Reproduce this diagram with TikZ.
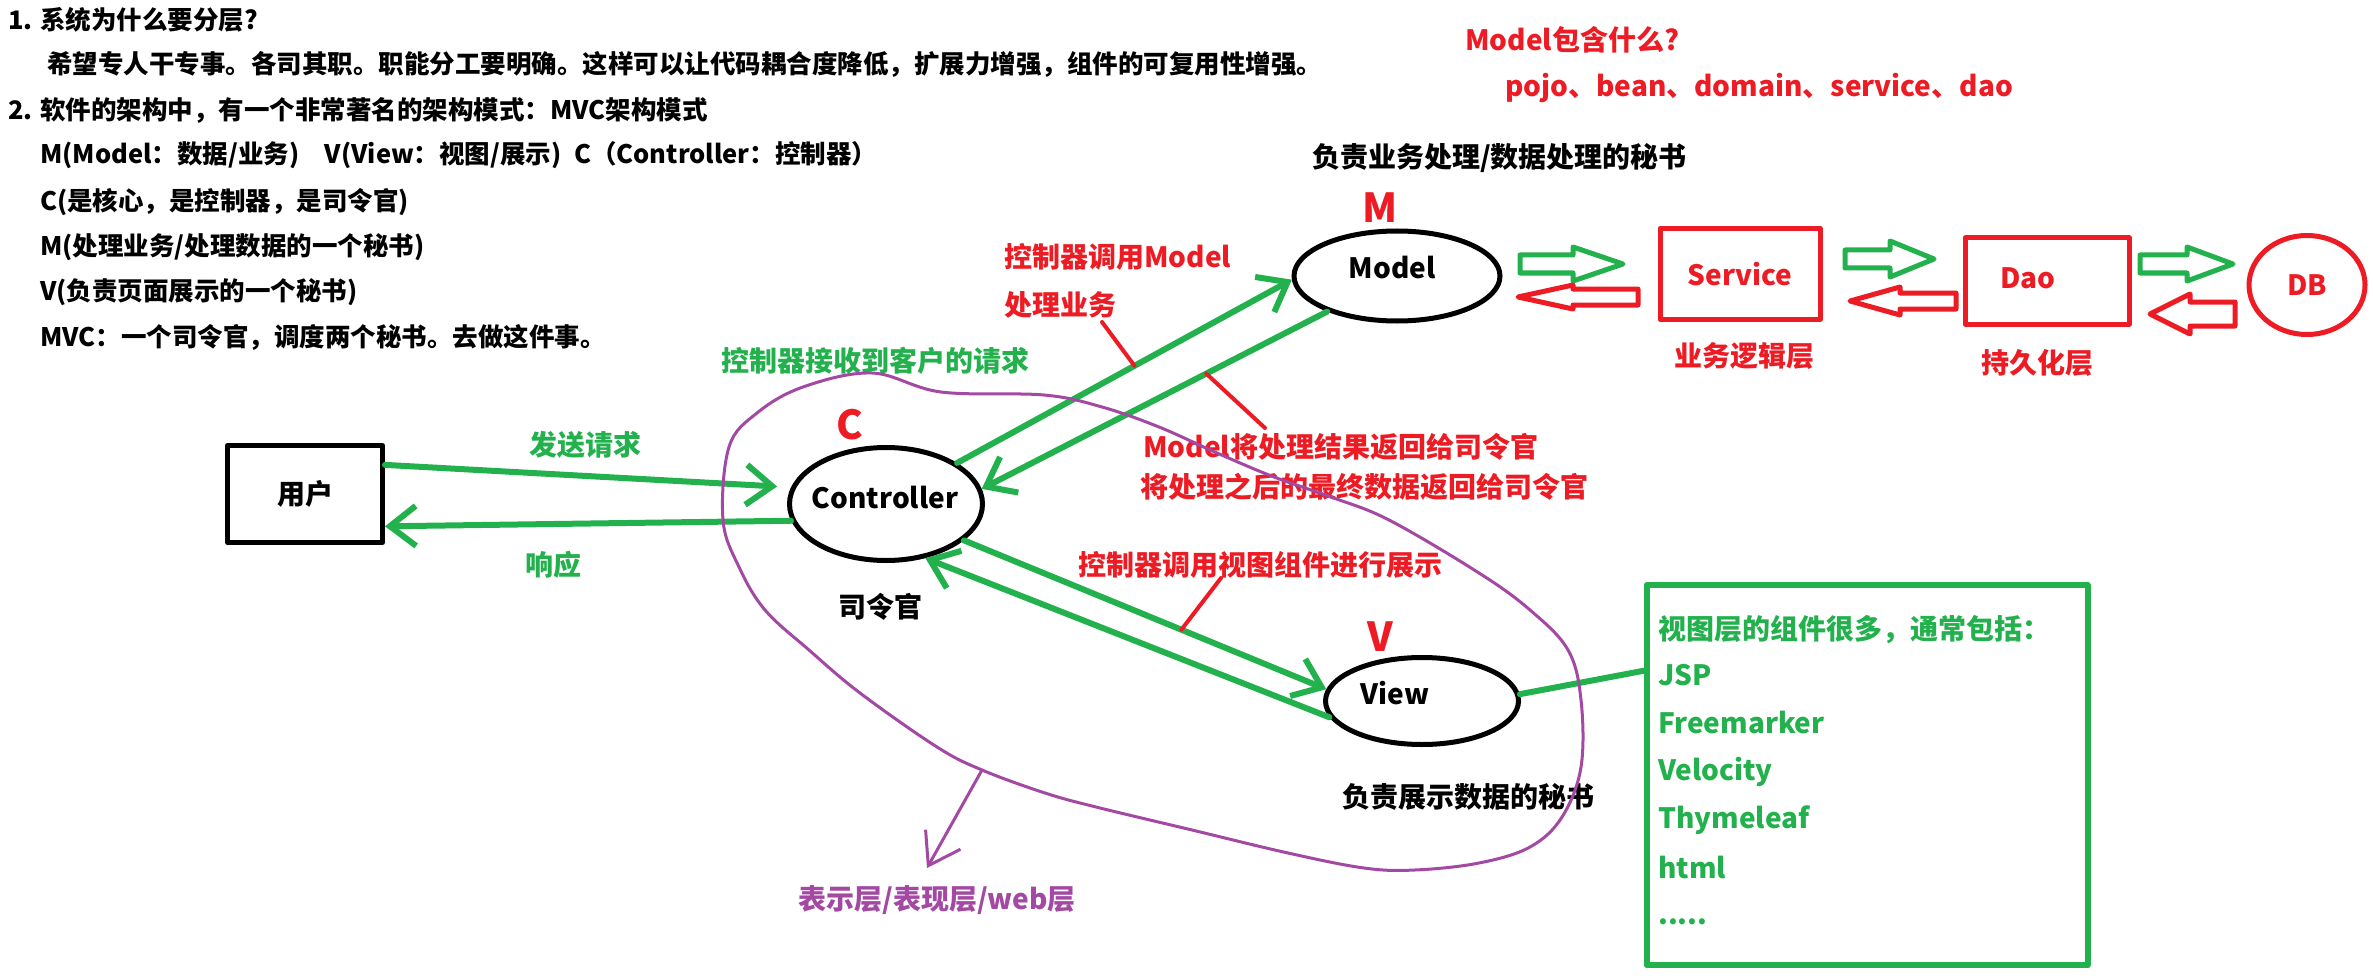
\documentclass[tikz,border=0pt]{standalone}
\usepackage{fontspec}
\setmainfont{Noto Sans CJK SC}
\usetikzlibrary{arrows.meta,shapes.geometric}
\definecolor{paintgreen}{RGB}{34,177,76}
\definecolor{paintred}{RGB}{237,28,36}
\definecolor{paintpurple}{RGB}{163,73,164}
\newcommand{\labelfont}[1]{\bfseries\fontsize{#1}{#1}\selectfont}
\tikzset{
    mvcbase/.style={
        x=1pt, y=-1pt,
        line cap=round, line join=round,
        every node/.style={inner sep=0pt, font=\labelfont{28}},
    },
    notes/.style={anchor=west, font=\labelfont{25.5}},
    rednote/.style={anchor=west, text=paintred},
    greennote/.style={anchor=west, text=paintgreen},
    bigletter/.style={text=paintred, font=\labelfont{40}},
    secretary/.style={ellipse, draw, line width=5pt},
    layerbox/.style={rectangle, draw=paintred, text=paintred, line width=5pt},
    flow/.style={paintgreen, line width=6pt, -{Straight Barb[length=26pt,width=40pt]}},
    pointer/.style={paintred, line width=4pt},
}
% hollow block arrow: colour, tail x, head x, tip x, y, half shaft, half head
\newcommand{\blockarrow}[7]{%
    \draw[#1, line width=5pt] (#2,#5-#6) -- (#3,#5-#6) -- (#3,#5-#7) -- (#4,#5)
        -- (#3,#5+#7) -- (#3,#5+#6) -- (#2,#5+#6) -- cycle;}

\begin{document}
\begin{tikzpicture}[mvcbase]
    \fill[white] (0,0) rectangle (2373,976);
    \useasboundingbox (0,0) rectangle (2373,976);
    % notes
    \node[notes] (q1) at (8,20) {1. 系统为什么要分层?};
    \node[notes] (a1) at (47,64) {希望专人干专事。各司其职。职能分工要明确。这样可以让代码耦合度降低，扩展力增强，组件的可复用性增强。};
    \node[notes] (q2) at (8,110) {2. 软件的架构中，有一个非常著名的架构模式：MVC架构模式};
    \node[notes] (a2) at (40,155) {M(Model：数据/业务)\hspace{1em}V(View：视图/展示)\hspace{0.5em}C（Controller：控制器）};
    \node[notes] (a3) at (40,202) {C(是核心，是控制器，是司令官)};
    \node[notes] (a4) at (40,247) {M(处理业务/处理数据的一个秘书)};
    \node[notes] (a5) at (40,292) {V(负责页面展示的一个秘书)};
    \node[notes] (a6) at (40,337) {MVC：一个司令官，调度两个秘书。去做这件事。};

    \node[rednote] (modelq) at (1465,40) {Model包含什么?};
    \node[rednote] (modelparts) at (1505,88) {pojo、bean、domain、service、dao};
    \node[anchor=west] (modelrole) at (1312,158) {负责业务处理/数据处理的秘书};

    % the three secretaries
    \node[draw, line width=5pt, minimum width=155pt, minimum height=97pt] (user) at (305,494) {用户};
    \node[secretary, minimum width=193pt, minimum height=113pt] (ctrl) at (886,504) {};
    \node (ctrltext) at (885,498) {Controller};
    \node[bigletter] (cletter) at (850,425) {C};
    \node (ctrlrole) at (880,607) {司令官};
    \node[secretary, minimum width=206pt, minimum height=90pt] (model) at (1397,276) {};
    \node (modeltext) at (1392,268) {Model};
    \node[bigletter] (mletter) at (1380,208) {M};
    \node[secretary, minimum width=193pt, minimum height=87pt] (view) at (1422,701) {};
    \node (viewtext) at (1395,693) {View};
    \node[bigletter] (vletter) at (1380,637) {V};
    \node[anchor=west] (viewrole) at (1342,797) {负责展示数据的秘书};

    % service / dao / db
    \node[layerbox, minimum width=160pt, minimum height=91pt] (service) at (1740,274) {Service};
    \node[layerbox, minimum width=164pt, minimum height=86pt] (dao) at (2047,281) {};
    \node[text=paintred] (daotext) at (2028,278) {Dao};
    \node[secretary, draw=paintred, text=paintred, minimum width=116pt, minimum height=99pt] (db) at (2307,285) {DB};
    \node[text=paintred] (bizlayer) at (1744,356) {业务逻辑层};
    \node[text=paintred] (persist) at (2037,363) {持久化层};
    \blockarrow{paintgreen}{1520}{1573}{1623}{264}{9}{17}
    \blockarrow{paintred}{1638}{1573}{1518}{297}{8}{12}
    \blockarrow{paintgreen}{1845}{1890}{1934}{259}{9}{18}
    \blockarrow{paintred}{1956}{1900}{1850}{301}{8}{14}
    \blockarrow{paintgreen}{2140}{2187}{2233}{264}{9}{17}
    \blockarrow{paintred}{2235}{2190}{2150}{314}{12}{20}

    % requests and calls
    \node[greennote] (recv) at (721,361) {控制器接收到客户的请求};
    \node[text=paintgreen] (send) at (585,445) {发送请求};
    \node[text=paintgreen] (reply) at (553,565) {响应};
    \draw[flow, shorten >=14pt] (user.20) -- (ctrl.170);
    \draw[flow] (ctrl.190) -- (user.-22);
    \draw[flow] (ctrl.30) -- coordinate[pos=0.53] (c2m) (model.182);
    \draw[flow] (model.207) -- coordinate[pos=0.35] (m2c) (ctrl.9);
    \draw[flow] (ctrl.-25) -- coordinate[pos=0.6] (c2v) (view.173);
    \draw[flow] (view.190) -- (ctrl.-54);

    \node[rednote] (callmodel) at (1004,257) {控制器调用Model};
    \node[rednote] (dowork) at (1004,305) {处理业务};
    \node[rednote] (giveback) at (1143,447) {Model将处理结果返回给司令官};
    \node[rednote] (giveback2) at (1140,487) {将处理之后的最终数据返回给司令官};
    \node[rednote] (callview) at (1078,565) {控制器调用视图组件进行展示};
    \coordinate (c2mnote) at (1102,322);
    \coordinate (m2cnote) at (1265,428);
    \coordinate (c2vnote) at (1221,578);
    \draw[pointer] (c2mnote) -- (c2m);
    \draw[pointer] (m2c) -- (m2cnote);
    \draw[pointer] (c2vnote) -- (c2v);

    % view components
    \node[draw=paintgreen, line width=6pt, minimum width=441pt, minimum height=380pt] (viewlist) at (1867,775) {};
    \draw[paintgreen, line width=6pt] (view.4) -- (viewlist.155);
    \node[greennote] (viewhead) at (1658,630) {视图层的组件很多，通常包括：};
    \foreach \tech/\ypos [count=\i] in {JSP/675, Freemarker/723, Velocity/772, Thymeleaf/820, html/868}
        \node[greennote] (tech\i) at (1658,\ypos) {\tech};
    \node[greennote] (techmore) at (1658,922) {.....};

    % presentation layer
    \draw[paintpurple, line width=3pt] plot[smooth cycle, tension=0.6] coordinates {
        (872,373) (941,392) (1044,395) (1102,407) (1159,427) (1217,453) (1274,477)
        (1331,497) (1389,520) (1479,573) (1530,610) (1568,650) (1581,700) (1581,767)
        (1562,817) (1530,847) (1479,863) (1415,870) (1364,868) (1288,853) (1192,830)
        (1096,807) (1045,793) (982,770) (937,747) (860,693) (809,650) (765,610)
        (739,567) (723,520) (729,447) (757,413) (803,387)};
    \node[text=paintpurple] (weblayer) at (937,900) {表示层/表现层/web层};
    \coordinate (loopdrop) at (982,770);
    \coordinate (droptip) at (927,868);
    \draw[paintpurple, line width=3pt, -{Straight Barb[length=30pt,width=40pt]}] (loopdrop) -- (droptip);
\end{tikzpicture}
\end{document}
